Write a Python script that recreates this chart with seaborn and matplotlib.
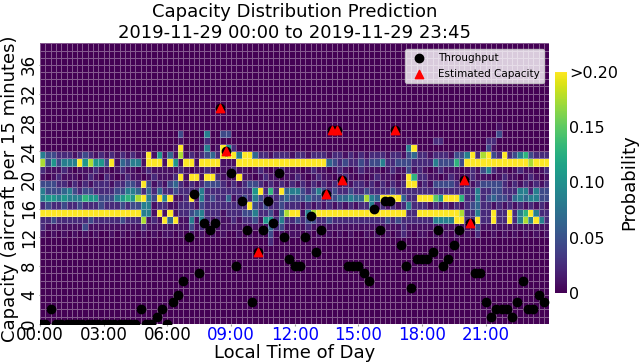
import numpy as np
import pandas as pd
import matplotlib
matplotlib.use("Agg")
import matplotlib.pyplot as plt
import seaborn as sns


n_slots = 96      # 15-minute slots in the day
n_levels = 39     # capacity levels 0..38

time_labels = ["00:00", "03:00", "06:00", "09:00", "12:00", "15:00", "18:00", "21:00"]
capacity_ticks = [0, 4, 8, 12, 16, 20, 24, 28, 32, 36]
cbar_ticks = [0, 0.05, 0.10, 0.15, 0.20]
cbar_labels = ["0", "0.05", "0.10", "0.15", ">0.20"]

throughput = [0, 0, 2, 0, 0, 0, 0, 0, 0, 0, 0, 0,
              0, 0, 0, 0, 0, 0, 0, 2, 0, 0, 1, 2,
              0, 3, 4, 6, 12, 18, 7, 14, 13, 14, 30, 24,
              21, 8, 17, 13, 3, 10, 13, 17, 14, 21, 12, 9,
              8, 8, 12, 15, 10, 13, 18, 27, 27, 20, 8, 8,
              8, 7, 6, 16, 13, 17, 17, 27, 11, 8, 5, 9,
              9, 9, 10, 13, 8, 9, 11, 13, 20, 14, 7, 7,
              3, 1, 2, 2, 2, 1, 3, 6, 2, 2, 4, 3]

cap_slots = [34, 35, 41, 54, 55, 56, 57, 67, 80, 81]
cap_values = [30, 24, 10, 18, 27, 27, 20, 27, 20, 14]

# one character per slot
shade = {"0": 0.0, "1": 0.008, "2": 0.024, "3": 0.045, "4": 0.065, "5": 0.085,
         "6": 0.105, "7": 0.13, "8": 0.15, "9": 0.175, "Y": 0.25}

prob_rows = {
    27: ["000000000000", "000000000000", "000000000000", "000000000000",
         "000000000000", "000000000000", "000000000000", "001000000000"],
    26: ["000000000000", "000000000000", "003000050033", "000000000000",
         "000000000000", "000000000000", "000000000000", "003000000000"],
    25: ["000000000000", "000000000000", "001000020000", "000000000000",
         "000000000000", "000000000100", "002200000000", "220000000000"],
    24: ["000000000000", "000000000000", "01Y0001501Y6", "200000000000",
         "000000000000", "0000000005Y0", "000000000000", "310000000000"],
    23: ["533222123212", "12121211Y161", "4191212342YY", "Y5YY42212221",
         "221222122121", "212221221342", "212221335Y29", "Y32Y23573222"],
    22: ["9363555Y6966", "3Y143551YYY1", "Y61YY1YYYY11", "1YYYYYYYYYYY",
         "YYYYYY432322", "323352233322", "22533373YYYY", "YYYYYYYY9YYY"],
    21: ["211121011121", "101211012111", "112101121011", "211012101211",
         "101211012101", "211101211312", "101211101213", "521101211012"],
    20: ["101211101210", "210121101211", "12Y1YY1YY211", "1Y1101211011",
         "210121101210", "101211101Y72", "211012101211", "101211012101"],
    19: ["333221212122", "2122332Y3121", "342121233321", "212332121212",
         "121212121212", "212121212YY1", "213333212123", "333212121212"],
    18: ["533345323322", "223355424242", "232222522222", "22226Y272Y45",
         "532353232232", "232222322222", "222222222252", "233222552533"],
    17: ["566565557663", "3356769Y53Y5", "Y112Y1523224", "123253222343",
         "334332334454", "4954YYYY422Y", "YY86YYY72252", "343324545533"],
    16: ["232232232223", "222323355122", "112221322222", "222Y32322322",
         "212121212121", "225121212522", "212121212342", "212121212121"],
    15: ["YYYYYYYYYYYY", "YYYYYYY551Y1", "Y12234522212", "22335223149Y",
         "Y159YYYYYYYY", "YYYYYYYYY22Y", "YYYYYYY92252", "2Y22Y257Y522"],
    14: ["223222222322", "22232229121Y", "4Y1151521211", "212231662522",
         "323322322222", "222223232222", "225555YY22Y2", "2Y22Y2595Y52"],
    13: ["211111113111", "111111121111", "111131211111", "111111142311",
         "112111111111", "111111112111", "111111111131", "111111111111"],
    12: ["101010101010", "010101010101", "101010101010", "010101030101",
         "101010101010", "010101012101", "101010101020", "010101010101"],
    11: ["000000000000", "000000000000", "000000000000", "000000020000",
         "000000000000", "000000000000", "000000000000", "000000000000"],
}

probs = np.zeros((n_levels, n_slots))
for level, segs in prob_rows.items():
    probs[level] = [shade[ch] for ch in "".join(segs)]
df = pd.DataFrame(probs)

fig = plt.figure(figsize=(6.39, 3.64), dpi=100)
ax = fig.add_axes([0.0626, 0.1107, 0.797, 0.7703])
cax = fig.add_axes([0.869, 0.195, 0.0178, 0.608])

sns.heatmap(df, ax=ax, cbar_ax=cax, cmap="viridis", vmin=0, vmax=0.2,
            linewidths=0.5, linecolor=(1, 1, 1, 0.35))
ax.set_ylim(0, n_levels)
ax.set_xlim(0, n_slots)

ax.scatter(np.arange(n_slots), throughput, color="black", s=36, zorder=3,
           label="Throughput")
ax.scatter(cap_slots, cap_values, marker="^", color="red", s=36, zorder=4,
           label="Estimated Capacity")

ax.set_xticks(np.arange(0, n_slots, 12))
ax.set_xticklabels(time_labels, rotation=0, fontsize=12)
for lbl in ax.get_xticklabels()[3:]:
    lbl.set_color("blue")
ax.set_yticks(capacity_ticks)
ax.set_yticklabels([str(t) for t in capacity_ticks], rotation=90, va="center", fontsize=12)
ax.tick_params(axis="x", length=1.5, pad=0.5, color="0.6")
ax.tick_params(axis="y", length=1, pad=0.5, color="0.6")

ax.set_xlabel("Local Time of Day", fontsize=13, labelpad=0)
ax.set_ylabel("Capacity (aircraft per 15 minutes)", fontsize=13)
ax.yaxis.set_label_coords(-0.041, 0.48)
ax.set_title("Capacity Distribution Prediction\n2019-11-29 00:00 to 2019-11-29 23:45",
             fontsize=13, pad=4)
ax.legend(loc="upper right", fontsize=7.5, labelspacing=0.6)

cbar = ax.collections[0].colorbar
cbar.set_ticks(cbar_ticks)
cbar.set_ticklabels(cbar_labels)
cbar.ax.tick_params(labelsize=11.5, length=0, pad=2)
cbar.set_label("Probability", fontsize=13, labelpad=1)

fig.savefig("out.png", dpi=100)
